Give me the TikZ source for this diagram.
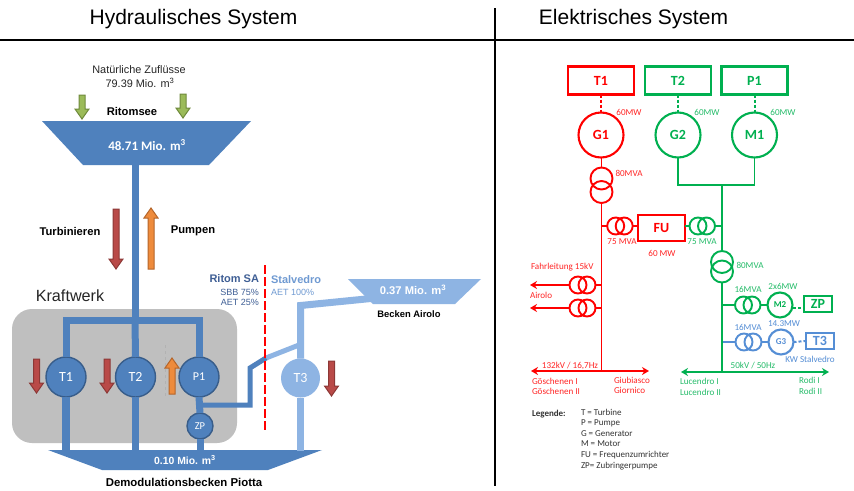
\documentclass[tikz,border=0pt]{standalone}
\usepackage{fontspec}
\setmainfont{Liberation Sans}
\newfontfamily\calf{Carlito}
\usetikzlibrary{arrows.meta,calc}
\definecolor{pipeblue}{HTML}{4F81BD}
\definecolor{pipedark}{HTML}{385D8A}
\definecolor{pipelight}{HTML}{8EB4E3}
\definecolor{kwgray}{HTML}{BFBFBF}
\definecolor{arrred}{HTML}{B94A48}
\definecolor{arrredd}{HTML}{8C3836}
\definecolor{arrora}{HTML}{EE8B3C}
\definecolor{arrorad}{HTML}{B5652A}
\definecolor{arrgrn}{HTML}{9BBB59}
\definecolor{arrgrnd}{HTML}{6F8A3C}
\definecolor{elred}{HTML}{FF0000}
\definecolor{elgrn}{HTML}{00B050}
\definecolor{elblu}{HTML}{558ED5}
\definecolor{ritom}{HTML}{3F5F95}
\definecolor{stal}{HTML}{6F9AD2}
\newcommand{\fsz}[1]{\fontsize{#1}{#1}\selectfont}
\newcommand{\downarr}[5]{\filldraw[draw=#5,fill=#4,line width=1pt,line join=miter]
 ({#1-3},#2)--({#1+3},#2)--({#1+3},{#3-10})--({#1+7},{#3-10})--(#1,#3)--({#1-7},{#3-10})--({#1-3},{#3-10})--cycle;}
\newcommand{\uparr}[5]{\filldraw[draw=#5,fill=#4,line width=1pt,line join=miter]
 ({#1-3},#3)--({#1+3},#3)--({#1+3},{#2+10})--({#1+7},{#2+10})--(#1,#2)--({#1-7},{#2+10})--({#1-3},{#2+10})--cycle;}
\tikzset{
 x=1pt,y=-1pt,
 every node/.style={inner sep=0pt,outer sep=0pt},
 pipe/.style={draw=pipeblue,line width=7pt},
 pipethin/.style={draw=pipeblue,line width=5pt},
 pipel/.style={draw=pipelight,line width=7pt,line join=miter},
 pipelthin/.style={draw=pipelight,line width=5pt},
 unit/.style={circle,draw=pipedark,line width=1.4pt,fill=pipeblue,text=white,minimum size=40pt,font=\calf\fsz{14}},
 blab/.style={font=\bfseries\fsz{11.2}},
 wlab/.style={text=white,font=\bfseries\fsz{11}},
 elbox/.style={draw,line width=2.2pt,minimum height=28pt,minimum width=66pt,font=\calf\bfseries\fsz{14}},
 elcirc/.style={circle,draw,line width=2.1pt,minimum size=45pt,font=\calf\bfseries\fsz{14}},
 smcirc/.style={circle,draw,line width=2.1pt,minimum size=25pt,font=\calf\bfseries\fsz{9}},
 tr/.style={circle,draw,line width=1.9pt,minimum size=17pt},
 trv/.style={circle,draw,line width=1.9pt,minimum size=22pt},
 ellab/.style={font=\calf\fsz{9.1}},
 elline/.style={line width=1.8pt},
 eldash/.style={line width=2pt,dash pattern=on 3pt off 2pt},
 bus/.style={line width=1.8pt,{Stealth[length=7pt,width=8pt]}-{Stealth[length=7pt,width=8pt]}},
 leg/.style={anchor=west,font=\calf\fsz{9},text=black!80}
}
\begin{document}
\begin{tikzpicture}
\useasboundingbox (0,0) rectangle (854,490);
\fill[white] (0,0) rectangle (854,490);
% header
\node[font=\fsz{21}] (hh) at (193.5,19) {Hydraulisches System};
\node[font=\fsz{21}] (he) at (633.5,19) {Elektrisches System};
\draw[line width=1.4pt] (0,40)--(854,40);
\draw[line width=1.4pt] (495,8)--(495,486);
% Kraftwerk box
\node[font=\fsz{16.2},text=black!85] (kw) at (70,296) {Kraftwerk};
\fill[kwgray,rounded corners=20pt] (12,309) rectangle (237,443);
\draw[gray!60,line width=.5pt,dashed] (165.5,345)--(165.5,397);
% basins
\fill[pipeblue] (42,121)--(251,121)--(209,165)--(83,165)--cycle;
\fill[pipeblue] (48,450)--(322,450)--(268,470)--(102,470)--cycle;
\fill[pipelight] (348,279)--(481,279)--(455,304)--(373,304)--cycle;
\coordinate (ub) at (135,165);
\coordinate (lb) at (135,451);
\coordinate (jn) at (135,320.5);
\coordinate (ab) at (376,298);
\coordinate (tb) at (300.5,305.5);
% units
\node[unit] (t1) at (66,377) {T1};
\node[unit] (t2) at (135.5,377) {T2};
\node[unit,font=\calf\fsz{12}] (p1) at (199,377) {P1};
\node[unit,minimum size=26pt,font=\calf\fsz{10.5}] (zp) at (200,426) {ZP};
\node[unit,fill=pipelight,draw=none,minimum size=39pt] (t3) at (300.5,378) {T3};
% pipes
\draw[pipe] (ub)--(jn);
\draw[pipe] (t1.north)--(t1.north|-jn)--(jn)--(p1.north|-jn)--(p1.north);
\draw[pipe] (t2.north)--(jn);
\draw[pipe,line width=8pt] (t1.south)--(t1.south|-lb);
\draw[pipe] (t2.south)--(t2.south|-lb);
\draw[pipe] (p1.south)--(zp.north);
\draw[pipe] (zp.south)--(zp.south|-lb);
\draw[pipel] (t3.south)--(t3.south|-lb);
\draw[pipel] (t3.north)--(tb)--(ab);
\coordinate (d1) at (250,405);
\coordinate (d2) at (250,368);
\coordinate (d3) at (266,358);
\coordinate (d4) at (299,345);
\draw[pipelthin] (d3)--(d4);
\draw[pipethin,line join=miter] (p1.south|-d1)--(d1)--(d2)--(d3);
% dashed border
\draw[elred,line width=1.1pt,dash pattern=on 9pt off 3pt] (265,265)--(265,432);
% block arrows
\downarr{82}{95}{119}{arrgrn}{arrgrnd}
\downarr{183}{94}{118}{arrgrn}{arrgrnd}
\downarr{116}{209}{269}{arrred}{arrredd}
\uparr{151}{208}{269}{arrora}{arrorad}
\downarr{36.5}{359}{393}{arrred}{arrredd}
\downarr{107}{359}{393}{arrred}{arrredd}
\uparr{172}{358}{394}{arrora}{arrorad}
\downarr{331.5}{361}{396}{arrred}{arrredd}
% hydraulic labels
\node[font=\fsz{10.9},text=black!85] (nz) at (139,70) {Natürliche Zuflüsse};
\node[font=\fsz{10.9},text=black!85] (nz2) at (140,83) {79.39 Mio. m\textsuperscript{3}};
\node[blab] (rs) at (132,111) {Ritomsee};
\node[wlab,font=\calf\bfseries\fsz{13}] (b1) at (147,145) {48.71 Mio. m\textsuperscript{3}};
\node[blab] (tu) at (70,231) {Turbinieren};
\node[blab] (pu) at (193,231) {Pumpen};
\node[wlab,font=\bfseries\fsz{10.4}] (b2) at (185,460) {0.10 Mio. m\textsuperscript{3}};
\node[blab,font=\bfseries\fsz{11.4}] (dp) at (184,482) {Demodulationsbecken Piotta};
\node[wlab,font=\bfseries\fsz{11.2}] (b3) at (413,290) {0.37 Mio. m\textsuperscript{3}};
\node[blab,font=\bfseries\fsz{9.4}] (ba) at (409,314) {Becken Airolo};
\node[anchor=east,text=ritom,font=\bfseries\fsz{11}] (rsa) at (259,279) {Ritom SA};
\node[anchor=east,text=ritom,font=\fsz{9}] (rs1) at (259,292) {SBB 75\%};
\node[anchor=east,text=ritom,font=\fsz{9}] (rs2) at (259,302) {AET 25\%};
\node[anchor=west,text=stal,font=\bfseries\fsz{11}] (st) at (271,280) {Stalvedro};
\node[anchor=west,text=stal,font=\fsz{9}] (st1) at (271,292) {AET 100\%};
% --- electric
\begin{scope}[elred,every node/.append style={text=elred,draw=elred}]
\node[elbox] (et1) at (601,80.5) {T1};
\node[elcirc] (g1) at (601,135) {G1};
\node[trv] (tg1a) at (601.5,178.5) {};
\node[trv] (tg1b) at (601.5,192) {};
\node[elbox,minimum width=47pt,minimum height=26pt] (fu) at (661.5,228) {FU};
\node[tr] (tfa) at (615.7,226) {};
\node[tr] (tfb) at (624.2,226) {};
\node[tr] (ta1) at (578,285) {};
\node[tr] (ta2) at (587,285) {};
\node[tr] (tb1) at (578,308) {};
\node[tr] (tb2) at (587,308) {};
\coordinate (rb) at (601.5,371);
\coordinate (rl) at (531,371);
\coordinate (rr) at (649,371);
\coordinate (a1) at (530,285);
\coordinate (a2) at (530,308);
\draw[eldash] (et1.south)--(g1.north);
\draw[elline] (g1.south-|tg1a.north)--(tg1a.north);
\draw[elline] (tg1b.south)--(rb);
\draw[bus] (rl)--(rr);
\draw[elline] (tfa.west)--(tfa.west-|rb);
\draw[elline] (tfb.east)--(fu.west|-tfb.east);
\draw[elline] (ta2.east)--(ta2.east-|rb);
\draw[elline] (tb2.east)--(tb2.east-|rb);
\draw[elline,-{Stealth[length=7pt,width=8pt]}] (ta1.west)--(a1);
\draw[elline,-{Stealth[length=7pt,width=8pt]}] (tb1.west)--(a2);
\end{scope}
\begin{scope}[elgrn,every node/.append style={text=elgrn,draw=elgrn}]
\node[elbox] (et2) at (678,80.5) {T2};
\node[elbox] (ep1) at (754.5,80.5) {P1};
\node[elcirc] (g2) at (678,135) {G2};
\node[elcirc] (m1) at (754.5,135) {M1};
\node[trv] (tm1) at (722,262) {};
\node[trv] (tm2) at (722,271.5) {};
\node[tr] (tg1) at (698,226) {};
\node[tr] (tg2) at (706.5,226) {};
\node[tr] (tz1) at (743.5,305) {};
\node[tr] (tz2) at (752,305) {};
\node[smcirc] (m2) at (780,305) {M2};
\node[draw,line width=2pt,minimum width=28pt,minimum height=16pt,font=\calf\bfseries\fsz{14}] (ezp) at (818,304) {ZP};
\coordinate (gj) at (722,185);
\coordinate (gb) at (722,372);
\coordinate (gl) at (681,372);
\coordinate (gr) at (829,372);
\draw[eldash] (et2.south)--(g2.north);
\draw[eldash] (ep1.south)--(m1.north);
\draw[elline] (g2.south)--(g2.south|-gj)--(m1.south|-gj)--(m1.south);
\draw[elline] (gj)--(tm1.north);
\draw[elline] (tm2.south)--(gb);
\draw[bus] (gl)--(gr);
\draw[elline] (fu.east|-tg1.west)--(tg1.west);
\draw[elline] (tg2.east)--(tg2.east-|gj);
\draw[elline] (tz1.west)--(tz1.west-|gj);
\draw[elline] (tz2.east)--(m2.west);
\coordinate (z1) at (793,308);
\coordinate (z2) at (804,308);
\draw[eldash] (z1)--(z2);
\end{scope}
\begin{scope}[elblu,every node/.append style={text=elblu,draw=elblu}]
\node[tr] (tt1) at (744,342) {};
\node[tr] (tt2) at (753,342) {};
\node[smcirc] (g3) at (781,342) {G3};
\node[draw,line width=2pt,minimum width=28pt,minimum height=16pt,font=\calf\bfseries\fsz{14}] (et3) at (820,341) {T3};
\draw[elline] (tt1.west)--(tt1.west-|gj);
\draw[elline] (tt2.east)--(g3.west);
\draw[eldash] (g3.east)--(et3.west);
\end{scope}
\draw[elgrn,elline] (722,335)--(722,350);
% electric labels red
\begin{scope}[every node/.append style={ellab,text=elred!85}]
\node at (629,112) {60MW};
\node at (629,173) {80MVA};
\node at (622,242) {75 MVA};
\node at (662,253) {60 MW};
\node[anchor=west] at (531,267) {Fahrleitung 15kV};
\node[anchor=west] at (530,295) {Airolo};
\node at (570,366) {132kV / 16,7Hz};
\node[anchor=west] at (532,381) {Göschenen I};
\node[anchor=west] at (532,391) {Göschenen II};
\node[anchor=west] at (614,380) {Giubiasco};
\node[anchor=west] at (614,390) {Giornico};
\end{scope}
\begin{scope}[every node/.append style={ellab,text=elgrn!85}]
\node at (707,112) {60MW};
\node at (783,112) {60MW};
\node at (702,242) {75 MVA};
\node at (750,265) {80MVA};
\node at (748,289) {16MVA};
\node at (783,286) {2x6MW};
\node at (753,366) {50kV / 50Hz};
\node[anchor=west] at (680,381) {Lucendro I};
\node[anchor=west] at (680,392) {Lucendro II};
\node[anchor=west] at (799,380) {Rodi I};
\node[anchor=west] at (799,391) {Rodi II};
\end{scope}
\begin{scope}[every node/.append style={ellab,text=elblu}]
\node at (748,327) {16MVA};
\node at (784,324) {14.3MW};
\node at (810,359) {KW Stalvedro};
\end{scope}
% legend
\node[leg,font=\calf\bfseries\fsz{9}] at (532,414) {Legende:};
\node[leg] at (581,412) {T = Turbine};
\node[leg] at (581,423) {P = Pumpe};
\node[leg] at (581,434) {G = Generator};
\node[leg] at (581,444) {M = Motor};
\node[leg] at (581,455) {FU = Frequenzumrichter};
\node[leg] at (581,466) {ZP= Zubringerpumpe};
\end{tikzpicture}
\end{document}
